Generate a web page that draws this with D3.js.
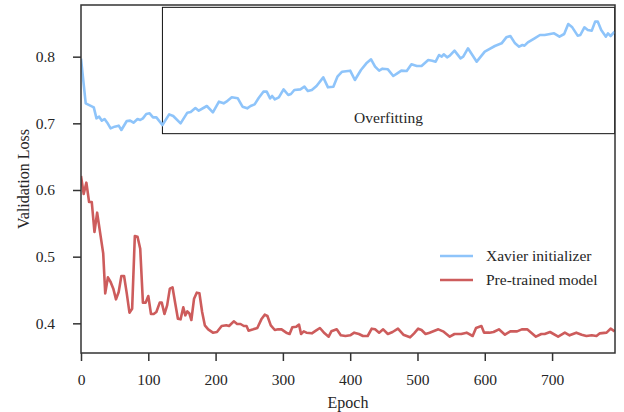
<!DOCTYPE html>
<html>
<head>
<meta charset="utf-8">
<script src="https://cdn.jsdelivr.net/npm/d3@7"></script>
<style>
  body { margin: 0; background: #fff; }
  svg { display: block; }
  text { font-family: "Liberation Serif", "DejaVu Serif", serif; fill: #262626; }
</style>
</head>
<body>
<svg id="chart" width="624" height="412"></svg>
<script>
// Xavier initializer (validation loss)
const xavierEpochs = [0, 7, 13, 19, 23, 27, 31, 35, 39, 44, 50, 56, 60, 68, 73, 78, 84, 88, 92, 97, 102, 107, 112, 121,
  131, 137, 148, 158, 163, 170, 175, 187, 196, 205, 212, 216, 224, 233, 240, 247, 252, 258, 264, 271, 276, 281, 284, 288,
  294, 301, 308, 312, 317, 326, 332, 337, 343, 350, 360, 367, 375, 381, 388, 400, 407, 416, 424, 431, 437, 443, 448, 456,
  464, 470, 476, 484, 491, 499, 506, 516, 522, 527, 532, 536, 539, 544, 548, 555, 564, 568, 575, 588, 600, 606, 615, 625,
  632, 638, 645, 651, 656, 659, 664, 674, 682, 689, 697, 703, 711, 718, 724, 730, 738, 742, 748, 753, 759, 764, 768, 773,
  780, 783, 787, 793];
const xavierLoss = [0.797, 0.730, 0.727, 0.724, 0.7075, 0.710, 0.704, 0.7065, 0.701, 0.6925, 0.695, 0.6965, 0.690, 0.7035,
  0.704, 0.701, 0.7065, 0.705, 0.7075, 0.714, 0.715, 0.709, 0.709, 0.6975, 0.7135, 0.711, 0.700, 0.716, 0.717, 0.723,
  0.719, 0.726, 0.7165, 0.7325, 0.730, 0.7325, 0.739, 0.7375, 0.725, 0.7225, 0.726, 0.7285, 0.738, 0.7475, 0.7475, 0.7375,
  0.741, 0.736, 0.739, 0.751, 0.7425, 0.744, 0.750, 0.751, 0.755, 0.7485, 0.750, 0.756, 0.769, 0.754, 0.755, 0.770,
  0.7775, 0.779, 0.765, 0.780, 0.790, 0.796, 0.785, 0.779, 0.782, 0.781, 0.771, 0.775, 0.779, 0.7785, 0.7885, 0.786,
  0.786, 0.795, 0.794, 0.7925, 0.8025, 0.800, 0.8035, 0.799, 0.8015, 0.809, 0.7975, 0.800, 0.8125, 0.7925, 0.8075, 0.811,
  0.816, 0.820, 0.829, 0.831, 0.820, 0.815, 0.8175, 0.8165, 0.8215, 0.8275, 0.8325, 0.8325, 0.834, 0.835, 0.830, 0.834,
  0.849, 0.844, 0.8315, 0.8325, 0.844, 0.840, 0.839, 0.8525, 0.8525, 0.840, 0.830, 0.835, 0.831, 0.8375];

// Pre-trained model (validation loss)
const pretrainedEpochs = [0, 4, 8, 12, 16, 20, 24, 29, 33, 36, 40, 44, 48, 52, 56, 60, 64, 68, 72, 76, 80, 84, 88, 92, 96,
  100, 104, 108, 112, 117, 120, 124, 128, 132, 136, 140, 144, 148, 152, 155, 158, 161, 164, 168, 172, 176, 180, 184, 189,
  196, 202, 209, 216, 220, 227, 232, 237, 242, 246, 249, 256, 262, 268, 273, 277, 282, 288, 293, 298, 305, 310, 314, 320,
  324, 327, 331, 335, 343, 349, 355, 362, 368, 372, 380, 386, 393, 400, 406, 413, 419, 426, 432, 437, 443, 449, 456, 463,
  471, 479, 489, 495, 501, 506, 512, 518, 531, 538, 548, 555, 565, 573, 582, 587, 595, 599, 607, 613, 621, 630, 638, 648,
  655, 663, 676, 684, 689, 697, 709, 719, 726, 736, 744, 751, 759, 766, 771, 781, 787, 793];
const pretrainedLoss = [0.621, 0.594, 0.611, 0.582, 0.582, 0.537, 0.566, 0.532, 0.505, 0.445, 0.469, 0.462, 0.452, 0.436,
  0.447, 0.471, 0.471, 0.445, 0.416, 0.422, 0.531, 0.530, 0.512, 0.431, 0.431, 0.441, 0.414, 0.414, 0.417, 0.431, 0.431,
  0.414, 0.427, 0.452, 0.454, 0.430, 0.407, 0.406, 0.424, 0.412, 0.418, 0.415, 0.405, 0.437, 0.446, 0.445, 0.417, 0.397,
  0.391, 0.386, 0.387, 0.396, 0.397, 0.396, 0.403, 0.399, 0.399, 0.396, 0.396, 0.389, 0.391, 0.393, 0.406, 0.413, 0.411,
  0.397, 0.390, 0.391, 0.391, 0.386, 0.384, 0.394, 0.395, 0.398, 0.384, 0.388, 0.386, 0.385, 0.389, 0.393, 0.385, 0.380,
  0.388, 0.391, 0.382, 0.381, 0.382, 0.386, 0.384, 0.381, 0.381, 0.392, 0.391, 0.386, 0.391, 0.384, 0.387, 0.392, 0.383,
  0.379, 0.385, 0.392, 0.390, 0.384, 0.386, 0.391, 0.388, 0.380, 0.384, 0.384, 0.386, 0.381, 0.393, 0.396, 0.386, 0.386,
  0.387, 0.391, 0.383, 0.388, 0.388, 0.391, 0.391, 0.380, 0.384, 0.384, 0.387, 0.380, 0.386, 0.382, 0.386, 0.383, 0.381,
  0.382, 0.381, 0.385, 0.386, 0.392, 0.388];

const xTicks = [0, 100, 200, 300, 400, 500, 600, 700];
const yTicks = [0.4, 0.5, 0.6, 0.7, 0.8];
const seriesNames = ["Xavier initializer", "Pre-trained model"];
const seriesColors = ["#8ec4fa", "#cd5c5c"];
// Overfitting region: [epoch start, epoch end], [loss low, loss high]
const boxEpochs = [121, 793];
const boxLoss = [0.6845, 0.874];

const W = 624, H = 412;
const margin = { top: 5, right: 9, bottom: 59, left: 81 };
const width = W - margin.left - margin.right;
const height = H - margin.top - margin.bottom;

const svg = d3.select("#chart");
const g = svg.append("g").attr("transform", `translate(${margin.left},${margin.top})`);

const x = d3.scaleLinear().domain([0, 793.5]).range([0, width]);
const y = d3.scaleLinear().domain([0.3555, 0.8775]).range([height, 0]);

g.append("clipPath").attr("id", "clip")
  .append("rect").attr("width", width).attr("height", height);

const plot = g.append("g").attr("clip-path", "url(#clip)");

// Overfitting box
plot.append("rect")
  .attr("x", x(boxEpochs[0]))
  .attr("y", y(boxLoss[1]))
  .attr("width", x(boxEpochs[1]) - x(boxEpochs[0]))
  .attr("height", y(boxLoss[0]) - y(boxLoss[1]))
  .attr("fill", "none")
  .attr("stroke", "#111")
  .attr("stroke-width", 1);

plot.append("text")
  .attr("x", x((boxEpochs[0] + boxEpochs[1]) / 2))
  .attr("y", y(0.7))
  .attr("text-anchor", "middle")
  .style("font-size", "15.5px")
  .text("Overfitting");

const line = d3.line().x(d => x(d[0])).y(d => y(d[1]));

const series = [
  d3.zip(xavierEpochs, xavierLoss),
  d3.zip(pretrainedEpochs, pretrainedLoss)
];

series.forEach((s, i) => {
  plot.append("path")
    .datum(s)
    .attr("fill", "none")
    .attr("stroke", seriesColors[i])
    .attr("stroke-width", 2.6)
    .attr("stroke-linejoin", "round")
    .attr("d", line);
});

// Axes
const xAxis = g.append("g")
  .attr("transform", `translate(0,${height})`)
  .call(d3.axisBottom(x).tickValues(xTicks).tickSize(8).tickPadding(13).tickFormat(d3.format("d")));
const yAxis = g.append("g")
  .call(d3.axisLeft(y).tickValues(yTicks).tickSize(8).tickPadding(18).tickFormat(d3.format(".1f")));

[xAxis, yAxis].forEach(a => {
  a.select(".domain").remove();
  a.selectAll(".tick line").attr("stroke", "#333").attr("stroke-width", 1.5);
  a.selectAll(".tick text").style("font-size", "15.5px").attr("fill", "#262626")
    .style("font-family", "'Liberation Serif', serif");
});

// Frame
g.append("rect")
  .attr("width", width).attr("height", height)
  .attr("fill", "none").attr("stroke", "#333").attr("stroke-width", 1.5);

// Axis labels
svg.append("text")
  .attr("x", margin.left + width / 2)
  .attr("y", 408)
  .attr("text-anchor", "middle")
  .style("font-size", "16px")
  .text("Epoch");

svg.append("text")
  .attr("transform", `translate(29,${margin.top + height / 2}) rotate(-90)`)
  .attr("text-anchor", "middle")
  .style("font-size", "16px")
  .text("Validation Loss");

// Legend
const legend = svg.append("g");
seriesNames.forEach((name, i) => {
  const ly = 256 + i * 24;
  legend.append("line")
    .attr("x1", 440).attr("x2", 473).attr("y1", ly).attr("y2", ly)
    .attr("stroke", seriesColors[i]).attr("stroke-width", 2.6);
  legend.append("text")
    .attr("x", 486).attr("y", ly).attr("dy", "0.35em")
    .style("font-size", "15.5px")
    .text(name);
});
</script>
</body>
</html>
